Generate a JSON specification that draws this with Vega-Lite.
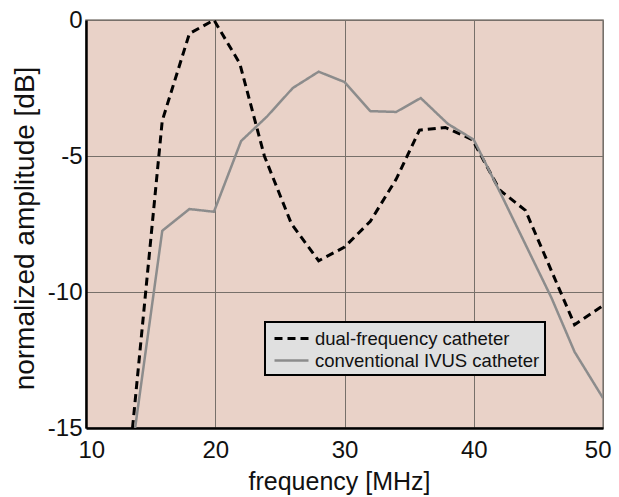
{
  "$schema": "https://vega.github.io/schema/vega-lite/v6.json",
  "width": 517,
  "height": 408,
  "autosize": {"type": "none"},
  "padding": {"left": 86, "top": 20, "right": 16, "bottom": 69},
  "background": "white",
  "config": {
    "font": "Liberation Sans",
    "view": {"fill": "#e9d2c8", "stroke": "#8a8580", "strokeWidth": 1.5}
  },
  "data": {
    "values": [
      {"series": "dual-frequency catheter", "f": 13.6, "a": -15},
      {"series": "dual-frequency catheter", "f": 15.9, "a": -3.7},
      {"series": "dual-frequency catheter", "f": 18.0, "a": -0.5},
      {"series": "dual-frequency catheter", "f": 19.9, "a": 0},
      {"series": "dual-frequency catheter", "f": 21.9, "a": -1.6},
      {"series": "dual-frequency catheter", "f": 23.8, "a": -5.0},
      {"series": "dual-frequency catheter", "f": 25.9, "a": -7.5},
      {"series": "dual-frequency catheter", "f": 28.0, "a": -8.85},
      {"series": "dual-frequency catheter", "f": 30.0, "a": -8.35},
      {"series": "dual-frequency catheter", "f": 32.0, "a": -7.4},
      {"series": "dual-frequency catheter", "f": 34.0, "a": -5.85},
      {"series": "dual-frequency catheter", "f": 35.8, "a": -4.05},
      {"series": "dual-frequency catheter", "f": 37.8, "a": -3.95},
      {"series": "dual-frequency catheter", "f": 39.9, "a": -4.4},
      {"series": "dual-frequency catheter", "f": 42.0, "a": -6.25},
      {"series": "dual-frequency catheter", "f": 44.0, "a": -7.0},
      {"series": "dual-frequency catheter", "f": 47.8, "a": -11.2},
      {"series": "dual-frequency catheter", "f": 50.0, "a": -10.5},
      {"series": "conventional IVUS catheter", "f": 13.8, "a": -15},
      {"series": "conventional IVUS catheter", "f": 15.9, "a": -7.75},
      {"series": "conventional IVUS catheter", "f": 18.0, "a": -6.95},
      {"series": "conventional IVUS catheter", "f": 19.9, "a": -7.05},
      {"series": "conventional IVUS catheter", "f": 22.0, "a": -4.45},
      {"series": "conventional IVUS catheter", "f": 24.0, "a": -3.55},
      {"series": "conventional IVUS catheter", "f": 26.0, "a": -2.5},
      {"series": "conventional IVUS catheter", "f": 28.0, "a": -1.9},
      {"series": "conventional IVUS catheter", "f": 30.0, "a": -2.28},
      {"series": "conventional IVUS catheter", "f": 32.0, "a": -3.35},
      {"series": "conventional IVUS catheter", "f": 34.0, "a": -3.38},
      {"series": "conventional IVUS catheter", "f": 35.9, "a": -2.87},
      {"series": "conventional IVUS catheter", "f": 38.0, "a": -3.82},
      {"series": "conventional IVUS catheter", "f": 40.0, "a": -4.4},
      {"series": "conventional IVUS catheter", "f": 42.0, "a": -6.3},
      {"series": "conventional IVUS catheter", "f": 44.0, "a": -8.25},
      {"series": "conventional IVUS catheter", "f": 46.0, "a": -10.2},
      {"series": "conventional IVUS catheter", "f": 47.8, "a": -12.2},
      {"series": "conventional IVUS catheter", "f": 50.0, "a": -13.9}
    ]
  },
  "mark": {"type": "line", "clip": true, "strokeJoin": "miter", "strokeCap": "butt"},
  "encoding": {
    "x": {
      "field": "f", "type": "quantitative",
      "scale": {"domain": [10, 50], "nice": false, "zero": false},
      "axis": {
        "values": [10, 20, 30, 40, 50],
        "title": "frequency [MHz]",
        "titleFont": "Liberation Sans", "titleFontSize": 25, "titleFontWeight": "normal", "titleColor": "#111",
        "titleBaseline": "alphabetic", "titleY": 61, "titleX": 253, "titleAlign": "center",
        "labelFontSize": 24, "labelColor": "#111", "labelBaseline": "alphabetic", "labelPadding": 29,
        "labelFlush": true, "labelFlushOffset": 8,
        "ticks": false,
        "domainColor": "#000", "domainWidth": 2.5,
        "grid": true, "gridColor": "#77706a", "gridWidth": 1
      }
    },
    "y": {
      "field": "a", "type": "quantitative",
      "scale": {"domain": [-15, 0], "nice": false, "zero": false},
      "axis": {
        "values": [-15, -10, -5, 0],
        "labelExpr": "'' + datum.value",
        "title": "normalized amplitude [dB]",
        "titleFont": "Liberation Sans", "titleFontSize": 28, "titleFontWeight": "normal", "titleColor": "#111",
        "titleBaseline": "alphabetic", "titleX": -53, "titleY": 208, "titleAlign": "center", "titleAngle": -90,
        "labelFontSize": 24, "labelColor": "#111", "labelPadding": 4, "labelBaseline": "middle",
        "labelFlush": false,
        "ticks": false,
        "domainColor": "#000", "domainWidth": 2.5,
        "grid": true, "gridColor": "#77706a", "gridWidth": 1
      }
    },
    "color": {
      "field": "series", "type": "nominal",
      "scale": {"domain": ["dual-frequency catheter", "conventional IVUS catheter"], "range": ["#000000", "#8c8c8c"]},
      "legend": {
        "title": null,
        "orient": "none", "legendX": 179, "legendY": 302,
        "fillColor": "#e0e0e0", "strokeColor": "#000000",
        "padding": 5, "rowPadding": 1,
        "symbolType": "M-1.7,0H1.7", "symbolSize": 400, "symbolStrokeWidth": 3, "symbolOffset": 10,
        "symbolFillColor": "transparent",
        "labelFont": "Liberation Sans", "labelFontSize": 18.5, "labelColor": "#111", "labelOffset": 12, "labelLimit": 400,
        "encode": {"legend": {"update": {"strokeWidth": {"value": 2}}}}
      }
    },
    "strokeDash": {
      "field": "series", "type": "nominal",
      "scale": {"domain": ["dual-frequency catheter", "conventional IVUS catheter"], "range": [[8, 5], [1, 0]]},
      "legend": null
    },
    "strokeWidth": {
      "field": "series", "type": "nominal",
      "scale": {"domain": ["dual-frequency catheter", "conventional IVUS catheter"], "range": [3, 2.5]},
      "legend": null
    }
  }
}
